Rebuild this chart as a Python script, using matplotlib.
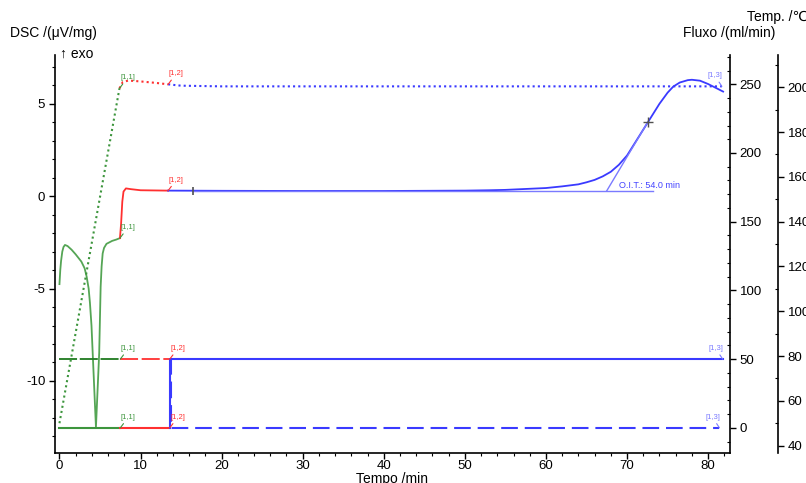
import matplotlib
matplotlib.use('Agg')
import matplotlib.pyplot as plt
from matplotlib.ticker import MultipleLocator

plt.rcParams['font.family'] = ['Liberation Sans', 'DejaVu Sans']

# ---------------- data ----------------
# Temperature (Temp. axis), segments [1,1], [1,2], [1,3]
temp_g_t = [0, 7.4]
temp_g = [50, 199.5]
temp_r_t = [7.4, 7.8, 8.5, 10, 12, 13.4]
temp_r = [199.5, 202.3, 203.0, 202.6, 201.9, 201.3]
temp_b_t = [13.4, 15, 20, 81.7]
temp_b = [201.3, 200.7, 200.4, 200.4]

# DSC signal
dsc_g_t = [0, 0.1, 0.2, 0.35, 0.5, 0.68, 1.0, 1.5, 2.0, 2.7, 3.1, 3.35, 3.6, 3.76, 3.95,
           4.1, 4.3, 4.5, 4.7, 4.9, 5.0, 5.08, 5.2, 5.33, 5.5, 5.8, 6.5, 7.0, 7.46]
dsc_g = [-4.76, -4.0, -3.5, -3.0, -2.75, -2.64, -2.7, -2.9, -3.15, -3.54, -3.9, -4.35, -5.0, -5.78, -7.0,
         -8.5, -10.5, -12.5, -10.5, -8.5, -6.5, -4.9, -3.8, -3.1, -2.8, -2.58, -2.42, -2.35, -2.27]
dsc_r_t = [7.46, 7.6, 7.75, 7.9, 8.2, 8.8, 10, 13.4]
dsc_r = [-2.27, -1.5, -0.3, 0.25, 0.42, 0.38, 0.32, 0.30]
dsc_b_t = [13.4, 20, 30, 40, 45, 50, 53, 55, 58, 60, 62, 64, 65, 66, 67, 68, 69, 70, 71, 72, 73,
           74, 75, 75.7, 76.5, 77.5, 78, 79, 80, 81, 81.85]
dsc_b = [0.30, 0.29, 0.28, 0.28, 0.29, 0.30, 0.32, 0.34, 0.40, 0.44, 0.53, 0.64, 0.75, 0.88, 1.07,
         1.32, 1.70, 2.20, 2.90, 3.60, 4.30, 5.00, 5.60, 5.93, 6.15, 6.28, 6.30, 6.25, 6.07, 5.85, 5.66]

# Flow (Fluxo axis): gas A (solid) and gas B (dashed)
flowA_g_t = [0, 7.5]
flowA_g = [0, 0]
flowA_r_t = [7.5, 13.6]
flowA_r = [0, 0]
flowA_b_t = [13.6, 13.6, 81.8]
flowA_b = [0, 50, 50]
flowB_g_t = [0, 7.5]
flowB_g = [50, 50]
flowB_r_t = [7.5, 13.6]
flowB_r = [50, 50]
flowB_b_t = [13.6, 13.8, 13.8, 81.4]
flowB_b = [50, 50, 0, 0]

# OIT evaluation
oit_label = "O.I.T.: 54.0 min"
oit_base_t = [16.5, 73.2]
oit_base = [0.29, 0.29]
oit_tan_t = [67.5, 72.6]
oit_tan = [0.29, 4.04]
mark_start = (16.5, 0.30)
mark_infl = (72.6, 4.04)

# ---------------- figure ----------------
W, H = 806, 483
fig = plt.figure(figsize=(W / 100, H / 100), dpi=100)
ax = fig.add_axes([55 / W, 30 / H, 675 / W, 398 / H])
axf = ax.twinx()
axt = ax.twinx()
axt.spines['right'].set_position(('axes', (778 - 55) / 675))

ax.set_xlim(-0.55, 82.7)
ax.set_ylim(-13.9, 7.64)
axf.set_ylim(-18.3, 271.3)
axt.set_ylim(36.7, 214.4)

for a in (ax, axf, axt):
    a.spines['top'].set_visible(False)
ax.spines['right'].set_visible(False)
for a in (axf, axt):
    a.spines['left'].set_visible(False)
    a.spines['bottom'].set_visible(False)
    a.spines['right'].set_linewidth(1.2)
ax.spines['left'].set_linewidth(1.2)
ax.spines['bottom'].set_linewidth(1.2)

GREEN = '#3d953d'
GREEN_D = '#1f7a1f'
RED = '#ff3030'
BLUE = '#3a3aff'
BLUE_L = '#7a7aff'

# temperature dotted
axt.plot(temp_g_t, temp_g, color=GREEN, lw=1.5, ls=(0, (1, 1.5)))
axt.plot(temp_r_t, temp_r, color=RED, lw=1.5, ls=(0, (1, 1.5)))
axt.plot(temp_b_t, temp_b, color=BLUE, lw=1.5, ls=(0, (1, 1.5)))

# flow
axf.plot(flowB_g_t, flowB_g, color=GREEN_D, lw=1.3, ls=(0, (10, 1.5)))
axf.plot(flowB_r_t, flowB_r, color=RED, lw=1.3, ls=(0, (10, 2)))
axf.plot(flowB_b_t, flowB_b, color=BLUE, lw=1.5, ls=(0, (8, 3.3)))
axf.plot(flowA_g_t, flowA_g, color=GREEN, lw=1.5)
axf.plot(flowA_r_t, flowA_r, color=RED, lw=1.5)
axf.plot(flowA_b_t, flowA_b, color=BLUE, lw=1.5)

# DSC
ax.plot(dsc_g_t, dsc_g, color='#55a555', lw=1.3)
ax.plot(dsc_r_t, dsc_r, color=RED, lw=1.3)
ax.plot(dsc_b_t, dsc_b, color=BLUE, lw=1.3)
ax.plot(oit_base_t, oit_base, color=BLUE_L, lw=1.0)
ax.plot(oit_tan_t, oit_tan, color=BLUE_L, lw=1.0)
ax.plot(*mark_start, marker='|', color='#505050', ms=6, mew=1.2)
ax.plot(*mark_infl, marker='+', color='#505050', ms=7, mew=1.0)
ax.annotate(oit_label, xy=(oit_tan_t[0], oit_tan[0]), xytext=(12, 5),
            textcoords='offset pixels', fontsize=6.5, color='#4444ff', va='center', ha='left')

# segment labels
def seg(a, label, x, y, color, dx=8):
    a.annotate(label, xy=(x, y), xytext=(dx, 7), textcoords='offset pixels',
               fontsize=5.5, color=color, ha='center', va='bottom',
               arrowprops=dict(arrowstyle='-', color=color, lw=0.8, shrinkA=0, shrinkB=0))

seg(axt, '[1,1]', temp_g_t[-1], temp_g[-1], GREEN)
seg(axt, '[1,2]', temp_r_t[-1], temp_r[-1], RED)
seg(axt, '[1,3]', temp_b_t[-1], temp_b[-1], BLUE_L, dx=-7)
seg(ax, '[1,1]', dsc_g_t[-1], dsc_g[-1], GREEN)
seg(ax, '[1,2]', dsc_r_t[-1], dsc_r[-1], RED)
seg(axf, '[1,1]', flowB_g_t[-1], flowB_g[-1], GREEN)
seg(axf, '[1,1]', flowA_g_t[-1], flowA_g[-1], GREEN)
seg(axf, '[1,2]', flowB_r_t[-1], flowB_r[-1], RED)
seg(axf, '[1,2]', flowA_r_t[-1], flowA_r[-1], RED)
seg(axf, '[1,3]', flowA_b_t[-1], flowA_b[-1], BLUE_L, dx=-7)
seg(axf, '[1,3]', flowB_b_t[-1], flowB_b[-1], BLUE_L, dx=-7)

# ticks
ax.xaxis.set_major_locator(MultipleLocator(10))
ax.xaxis.set_minor_locator(MultipleLocator(2))
ax.yaxis.set_major_locator(MultipleLocator(5))
ax.yaxis.set_minor_locator(MultipleLocator(1))
axf.yaxis.set_major_locator(MultipleLocator(50))
axf.yaxis.set_minor_locator(MultipleLocator(10))
axt.yaxis.set_major_locator(MultipleLocator(20))
axt.yaxis.set_minor_locator(MultipleLocator(10))
ax.tick_params(axis='both', which='major', direction='out', length=4, width=1, labelsize=9.5, pad=3)
ax.tick_params(axis='x', which='major', pad=1)
ax.tick_params(axis='both', which='minor', direction='out', length=2.5, width=0.8)
for a in (axf, axt):
    a.tick_params(axis='y', which='major', direction='out', length=4, width=1, labelsize=9.5, pad=3)
    a.tick_params(axis='y', which='minor', direction='in', length=2.5, width=0.8)
ax.set_yticks([-10, -5, 0, 5])
ax.set_yticklabels(['-10', '-5', '0', '5'])

# axis titles
fig.text(10 / W, 1 - 33 / H, 'DSC /(μV/mg)', fontsize=10, ha='left', va='center')
fig.text(60 / W, 1 - 54 / H, '↑ exo', fontsize=10, ha='left', va='center')
fig.text(775 / W, 1 - 33 / H, 'Fluxo /(ml/min)', fontsize=10, ha='right', va='center')
fig.text(747 / W, 1 - 17 / H, 'Temp. /℃', fontsize=10, ha='left', va='center')
fig.text(392 / W, 4 / H, 'Tempo /min', fontsize=10, ha='center', va='center')

fig.savefig('out.png', dpi=100)
